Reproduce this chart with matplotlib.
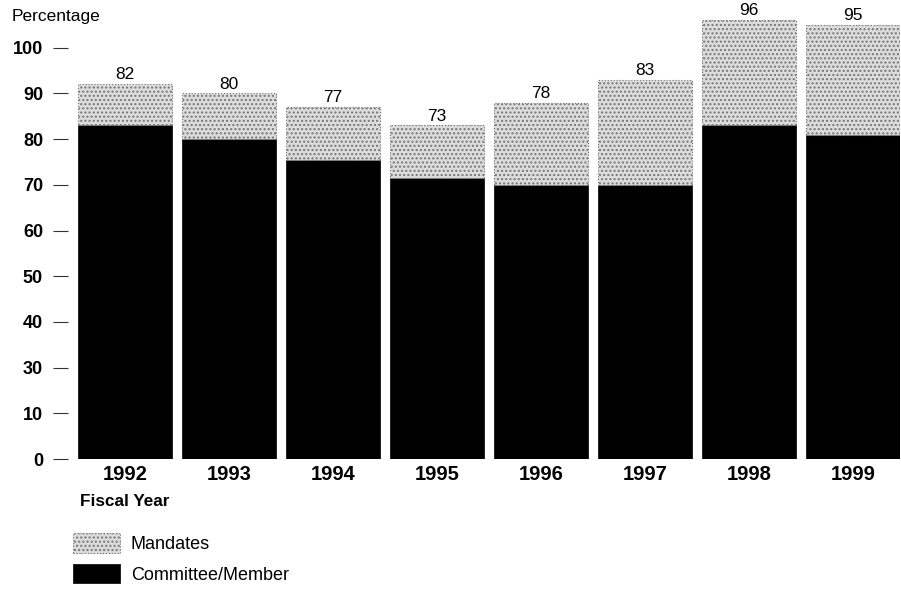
import matplotlib
matplotlib.use("Agg")
import matplotlib.pyplot as plt
import numpy as np

plt.rcParams["font.family"] = ["Liberation Sans", "DejaVu Sans"]
plt.rcParams["hatch.linewidth"] = 1.0

years = ["1992", "1993", "1994", "1995", "1996", "1997", "1998", "1999"]
committee = [73, 70, 65.5, 61.5, 60, 60, 73, 71]
totals = [82, 80, 77, 73, 78, 83, 96, 95]
mandates = [t - c for t, c in zip(totals, committee)]

# the printed axis skips "20", so the labels run one step ahead above 10
tick_values = [0, 10, 20, 30, 40, 50, 60, 70, 80, 90]
tick_labels = ["0", "10", "30", "40", "50", "60", "70", "80", "90", "100"]

fig = plt.figure(figsize=(9.01, 5.90), dpi=100)
ax = fig.add_axes([68 / 901, 1 - 459 / 590, 832 / 901, 457 / 590])

x = np.arange(len(years))
ax.bar(x, committee, width=0.9, color="black", edgecolor="black", linewidth=0.5,
       label="Committee/Member")
ax.bar(x, mandates, bottom=committee, width=0.9, color="#dcdcdc", edgecolor="#767676",
       hatch="....", linewidth=0.8, linestyle=":", label="Mandates")

for xi, total in zip(x, totals):
    ax.text(xi, total + 0.4, str(total), ha="center", va="bottom", fontsize=12.5)

ax.set_xlim(-0.55, 7.45)
ax.set_ylim(0, 100)
ax.set_yticks(tick_values)
ax.set_yticklabels(tick_labels, fontsize=13, fontweight="bold")
ax.set_xticks(x)
ax.set_xticklabels(years, fontsize=14.5, fontweight="bold")
ax.tick_params(axis="x", length=0, pad=4)
ax.tick_params(axis="y", length=11, width=0.8, color="#333333", pad=7)
for side in ("top", "right", "bottom", "left"):
    ax.spines[side].set_visible(False)

fig.text(12 / 901, 1 - 17 / 590, "Percentage", fontsize=12.5, va="center", ha="left")
fig.text(80 / 901, 1 - 501 / 590, "Fiscal Year", fontsize=12.3, fontweight="bold",
         va="center", ha="left")

handles, labels = ax.get_legend_handles_labels()
ax.legend(handles[::-1], labels[::-1], loc="upper left",
          bbox_to_anchor=(73 / 901, 1 - 533 / 590), bbox_transform=fig.transFigure,
          frameon=False, fontsize=13, handlelength=2.6, handleheight=1.3,
          handletextpad=0.6, labelspacing=0.6, borderaxespad=0, borderpad=0)

fig.savefig("out.png", dpi=100, facecolor="white")
